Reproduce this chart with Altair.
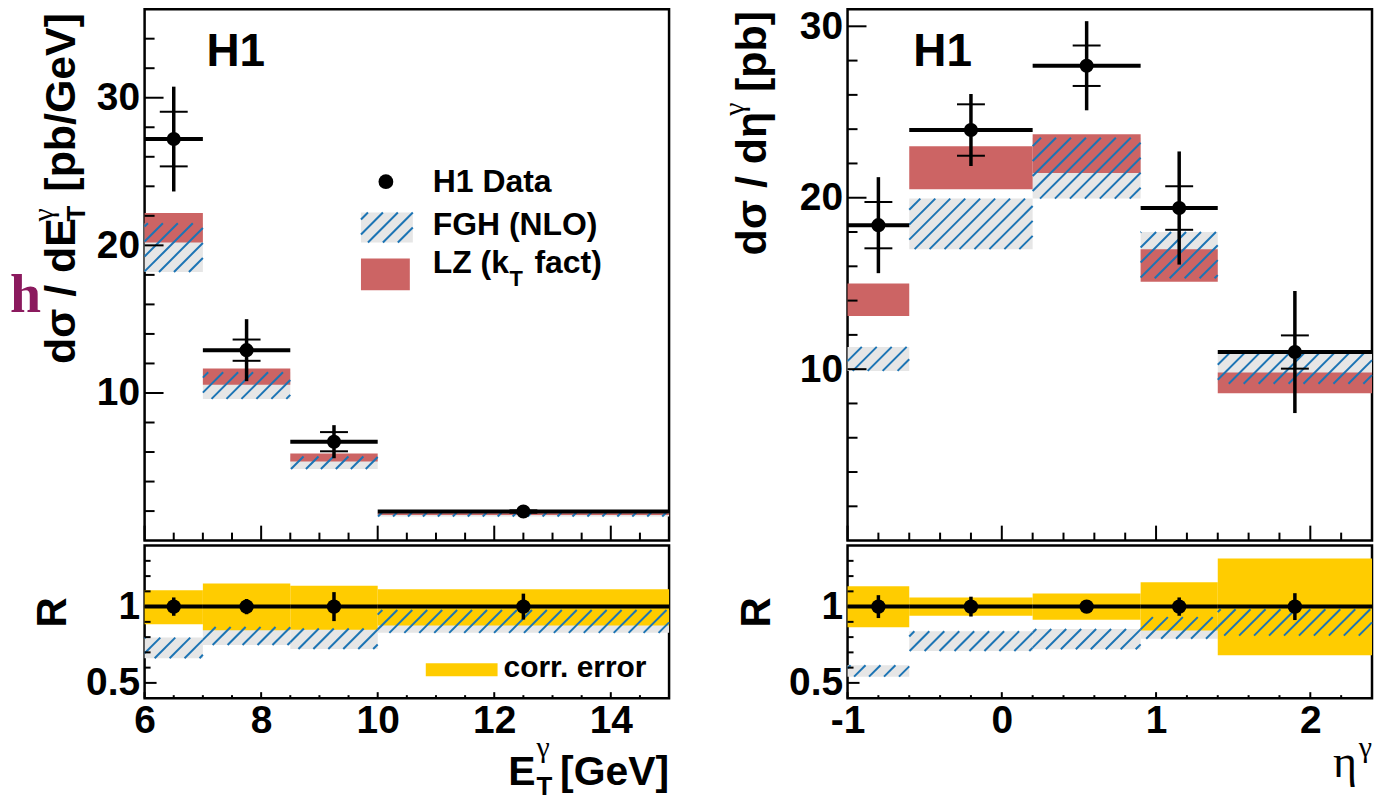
import math
import altair as alt
import pandas as pd

FONT = "Liberation Sans"
SERIF = "Liberation Serif"
BLUE = "#1c74b4"
GREY = "#e6e6e6"
RED = "#cc6464"
YEL = "#ffcc00"

# ---------------- data ----------------
ET_EDGES = [6.0, 7.0, 8.5, 10.0, 15.0]
ET_XC = [6.5, 7.75, 9.25, 12.5]
ET_DATA = [27.2, 12.9, 6.7, 1.97]
ET_STAT = [1.85, 0.72, 0.65, 0.08]
ET_TOT = [3.55, 2.1, 1.12, 0.2]
ET_FGH_LO = [18.2, 9.6, 4.85, 1.63]
ET_FGH_HI = [21.5, 11.4, 5.7, 1.9]
ET_LZ_LO = [20.2, 10.55, 5.36, 1.74]
ET_LZ_HI = [22.2, 11.65, 5.9, 1.86]
ET_R_ERR = [0.06, 0.05, 0.095, 0.085]
ET_CORR_LO = [0.884, 0.845, 0.849, 0.877]
ET_CORR_HI = [1.108, 1.151, 1.136, 1.114]
ET_RFGH_LO = [0.662, 0.748, 0.722, 0.828]
ET_RFGH_HI = [0.797, 0.866, 0.856, 0.978]

ETA_EDGES = [-1.0, -0.6, 0.2, 0.9, 1.4, 2.4]
ETA_XC = [-0.8, -0.2, 0.55, 1.15, 1.9]
ETA_DATA = [18.4, 23.95, 27.7, 19.4, 11.0]
ETA_STAT = [1.35, 1.5, 1.18, 1.27, 0.97]
ETA_TOT = [2.8, 2.1, 2.6, 3.3, 3.56]
ETA_FGH_LO = [9.9, 17.0, 19.95, 15.3, 9.15]
ETA_FGH_HI = [11.3, 19.95, 23.5, 18.0, 10.95]
ETA_LZ_LO = [13.1, 20.5, 21.45, 15.1, 8.6]
ETA_LZ_HI = [15.0, 23.0, 23.7, 17.0, 9.8]
ETA_R_ERR = [0.075, 0.065, 0.03, 0.06, 0.088]
ETA_CORR_LO = [0.864, 0.94, 0.914, 0.843, 0.681]
ETA_CORR_HI = [1.134, 1.06, 1.086, 1.159, 1.315]
ETA_RFGH_LO = [0.541, 0.709, 0.72, 0.789, 0.81]
ETA_RFGH_HI = [0.616, 0.838, 0.853, 0.931, 0.983]

# tick positions / labels
ET_MAJOR = [6, 8, 10, 12, 14]
ET_MINOR = [6.5, 7, 7.5, 8.5, 9, 9.5, 10.5, 11, 11.5, 12.5, 13, 13.5, 14.5]
ETA_MAJOR = [-1, 0, 1, 2]
ETA_MINOR = [-0.8, -0.6, -0.4, -0.2, 0.2, 0.4, 0.6, 0.8, 1.2, 1.4, 1.6, 1.8, 2.2]
MAIN_Y_MAJOR = [10, 20, 30]
MAIN_Y_MINOR_L = [2, 4, 6, 8, 12, 14, 16, 18, 22, 24, 26, 28, 32, 34]
MAIN_Y_MINOR_R = [2, 4, 6, 8, 12, 14, 16, 18, 22, 24, 26, 28]
R_MAJOR = [0.5, 1.0]
R_MINOR = [0.6, 0.7, 0.8, 0.9, 1.1, 1.2, 1.3]

# ---------------- layout ----------------
W, HM, HR = 526, 533, 153
LXD, RXD, LYD, RYD, QYD = [6, 15], [-1, 2.4], [0, 36], [0, 31], [0.4, 1.4]

def sc(d):
    return alt.Scale(domain=d, nice=False, zero=False)

AX = dict(title=None, ticks=False, domain=False, grid=False, labelFont=FONT,
          labelFontWeight="bold", labelFontSize=39, labelColor="black",
          labelFlush=False, labelOverlap=False,
          labelExpr="datum.value < 0 ? '-' + abs(datum.value) : '' + datum.value")


def hatch(rects, xd, yd, h, S=15.0):
    sx = W / (xd[1] - xd[0])
    sy = h / (yd[1] - yd[0])
    rows = []
    for (x0, x1, y0, y1) in rects:
        X0, X1 = (x0 - xd[0]) * sx, (x1 - xd[0]) * sx
        Y0, Y1 = (y0 - yd[0]) * sy, (y1 - yd[0]) * sy
        for k in range(math.ceil((X0 - Y1) / S), math.floor((X1 - Y0) / S) + 1):
            c = k * S
            a, b = max(X0, Y0 + c), min(X1, Y1 + c)
            if b - a > 0.5:
                rows.append({"hx": xd[0] + a / sx, "hy": yd[0] + (a - c) / sy,
                             "hx2": xd[0] + b / sx, "hy2": yd[0] + (b - c) / sy})
    return pd.DataFrame(rows)


def txt(s, x, y, size, font=FONT, weight="bold", angle=0, align="left", color="black"):
    return alt.Chart(pd.DataFrame({"t": [s]})).mark_text(
        font=font, fontSize=size, fontWeight=weight, angle=angle, align=align,
        baseline="alphabetic", color=color).encode(
        text="t:N", x=alt.value(x), y=alt.value(y))


ONE = pd.DataFrame({"a": [0]})


def tick_layers(X, Y, h, xmaj, xmin_, ymaj, ymin_, lx, ly):
    out = []
    for vals, ln in ((ymaj, ly[0]), (ymin_, ly[1])):
        out.append(alt.Chart(pd.DataFrame({"v": vals})).mark_rule(color="black", strokeWidth=2)
                   .encode(y=Y("v"), x=alt.value(0), x2=alt.value(ln)))
    for vals, ln in ((xmaj, lx[0]), (xmin_, lx[1])):
        out.append(alt.Chart(pd.DataFrame({"v": vals})).mark_rule(color="black", strokeWidth=2)
                   .encode(x=X("v"), y=alt.value(h), y2=alt.value(h - ln)))
    return out


def main_panel(edges, xc, data, stat, tot, flo, fhi, llo, lhi, xd, yd, xmaj, xmin_,
               ymin_, extra_bg, extra_fg):
    xs, ys = sc(xd), sc(yd)
    yax = alt.Axis(values=MAIN_Y_MAJOR, labelPadding=5, **AX)
    X = lambda f: alt.X(f, type="quantitative", scale=xs, axis=None)
    Y = lambda f: alt.Y(f, type="quantitative", scale=ys, axis=yax)
    df = pd.DataFrame({
        "x0": edges[:-1], "x1": edges[1:], "xc": xc, "val": data,
        "slo": [d - s for d, s in zip(data, stat)], "shi": [d + s for d, s in zip(data, stat)],
        "tlo": [d - t for d, t in zip(data, tot)], "thi": [d + t for d, t in zip(data, tot)],
        "fl": flo, "fh": fhi, "ll": llo, "lh": lhi})
    hd = hatch(list(zip(edges[:-1], edges[1:], flo, fhi)), xd, yd, HM)
    b = alt.Chart(df)
    layers = [
        b.mark_rect(color=GREY).encode(x=X("x0"), x2="x1", y=Y("fl"), y2="fh"),
        b.mark_rect(color=RED).encode(x=X("x0"), x2="x1", y=Y("ll"), y2="lh"),
        alt.Chart(hd).mark_rule(color=BLUE, strokeWidth=2).encode(
            x=X("hx"), y=Y("hy"), x2="hx2", y2="hy2"),
    ]
    layers += extra_bg(X, Y)
    layers += [
        b.mark_rule(color="black", strokeWidth=4).encode(x=X("x0"), x2="x1", y=Y("val")),
        b.mark_rule(color="black", strokeWidth=3.5).encode(x=X("xc"), y=Y("tlo"), y2="thi"),
        b.mark_tick(orient="horizontal", size=28, thickness=2, color="black", opacity=1).encode(
            x=X("xc"), y=Y("slo")),
        b.mark_tick(orient="horizontal", size=28, thickness=2, color="black", opacity=1).encode(
            x=X("xc"), y=Y("shi")),
        b.mark_point(shape="circle", filled=True, size=200, color="black", opacity=1).encode(
            x=X("xc"), y=Y("val")),
    ]
    layers += tick_layers(X, Y, HM, xmaj, xmin_, MAIN_Y_MAJOR, ymin_, (15, 8), (19, 10))
    layers += extra_fg
    return alt.layer(*layers).properties(width=W, height=HM)


def ratio_panel(edges, xc, err, clo, chi, rlo, rhi, xd, xmaj, xmin_, extra_bg, extra_fg):
    xs, ys = sc(xd), sc(QYD)
    xax = alt.Axis(values=xmaj, labelPadding=3, **AX)
    yax = alt.Axis(values=R_MAJOR, labelPadding=5, **AX)
    X = lambda f: alt.X(f, type="quantitative", scale=xs, axis=xax)
    Y = lambda f: alt.Y(f, type="quantitative", scale=ys, axis=yax)
    df = pd.DataFrame({
        "x0": edges[:-1], "x1": edges[1:], "xc": xc, "one": [1.0] * len(xc),
        "elo": [1 - e for e in err], "ehi": [1 + e for e in err],
        "cl": clo, "ch": chi, "rl": rlo, "rh": rhi})
    hd = hatch(list(zip(edges[:-1], edges[1:], rlo, rhi)), xd, QYD, HR)
    b = alt.Chart(df)
    layers = [
        b.mark_rect(color=GREY).encode(x=X("x0"), x2="x1", y=Y("rl"), y2="rh"),
        b.mark_rect(color=YEL).encode(x=X("x0"), x2="x1", y=Y("cl"), y2="ch"),
        alt.Chart(hd).mark_rule(color=BLUE, strokeWidth=2).encode(
            x=X("hx"), y=Y("hy"), x2="hx2", y2="hy2"),
    ]
    layers += extra_bg(X, Y)
    layers += [
        b.mark_rule(color="black", strokeWidth=4).encode(x=X("x0"), x2="x1", y=Y("one")),
        b.mark_rule(color="black", strokeWidth=3.5).encode(x=X("xc"), y=Y("elo"), y2="ehi"),
        b.mark_point(shape="circle", filled=True, size=210, color="black", opacity=1).encode(
            x=X("xc"), y=Y("one")),
    ]
    layers += tick_layers(X, Y, HR, xmaj, xmin_, R_MAJOR, R_MINOR, (6, 3), (12, 6))
    layers += extra_fg
    return alt.layer(*layers).properties(width=W, height=HR)


# ---------------- legends / annotations ----------------
SXL = W / (LXD[1] - LXD[0])
SYL = HM / (LYD[1] - LYD[0])
pxL = lambda p: LXD[0] + p / SXL
pyL = lambda p: LYD[1] - p / SYL


def legend_main(X, Y):
    hd = hatch([(pxL(217), pxL(269), pyL(234), pyL(204))], LXD, LYD, HM)
    return [
        alt.Chart(ONE).mark_rect(color=GREY).encode(
            x=alt.value(217), x2=alt.value(269), y=alt.value(204), y2=alt.value(234)),
        alt.Chart(hd).mark_rule(color=BLUE, strokeWidth=2).encode(
            x=X("hx"), y=Y("hy"), x2="hx2", y2="hy2"),
        alt.Chart(ONE).mark_rect(color=RED).encode(
            x=alt.value(217), x2=alt.value(266), y=alt.value(250), y2=alt.value(282)),
        alt.Chart(ONE).mark_point(shape="circle", filled=True, size=220, color="black",
                                  opacity=1).encode(x=alt.value(242), y=alt.value(173)),
    ]


def legend_ratio(X, Y):
    return [alt.Chart(ONE).mark_rect(color=YEL).encode(
        x=alt.value(282), x2=alt.value(354), y=alt.value(118), y2=alt.value(131))]


main_left_fg = [
    txt("H1", 62, 57, 46),
    txt("H1 Data", 289, 183, 32),
    txt("FGH (NLO)", 289, 227, 32),
    txt("LZ (k", 289, 265, 32),
    txt("T", 366, 278, 22),
    txt("fact)", 391, 265, 32),
    txt("h", -135, 304, 56, font=SERIF, color="#8b1a5e"),
    txt("dσ / dE", -70, 356, 43, angle=270),
    txt("T", -60, 213, 26, angle=270),
    txt("γ", -92, 213, 30, font=SERIF, weight="normal", angle=270),
    txt("[pb/GeV]", -70, 183, 43, angle=270),
]
main_right_fg = [
    txt("H1", 66, 57, 46),
    txt("dσ / dη", -82, 247, 43, angle=270),
    txt("γ", -104, 107, 30, font=SERIF, weight="normal", angle=270),
    txt("[pb]", -82, 83, 43, angle=270),
]
ratio_left_fg = [
    txt("corr. error", 360, 132, 30),
    txt("R", -79, 67, 42, angle=270, align="center"),
    txt("E", 392, 240, 41, align="right"),
    txt("T", 393, 250, 26),
    txt("γ", 393, 212, 30, font=SERIF, weight="normal"),
    txt("[GeV]", 526, 240, 41, align="right"),
]
ratio_right_fg = [
    txt("R", -78, 67, 42, angle=270, align="center"),
    txt("η", 511, 232, 46, font=SERIF, weight="normal", align="right"),
    txt("γ", 526, 212, 30, font=SERIF, weight="normal", align="right"),
]

none_bg = lambda X, Y: []

mainL = main_panel(ET_EDGES, ET_XC, ET_DATA, ET_STAT, ET_TOT, ET_FGH_LO, ET_FGH_HI,
                   ET_LZ_LO, ET_LZ_HI, LXD, LYD, ET_MAJOR, ET_MINOR, MAIN_Y_MINOR_L,
                   legend_main, main_left_fg)
mainR = main_panel(ETA_EDGES, ETA_XC, ETA_DATA, ETA_STAT, ETA_TOT, ETA_FGH_LO, ETA_FGH_HI,
                   ETA_LZ_LO, ETA_LZ_HI, RXD, RYD, ETA_MAJOR, ETA_MINOR, MAIN_Y_MINOR_R,
                   none_bg, main_right_fg)
ratioL = ratio_panel(ET_EDGES, ET_XC, ET_R_ERR, ET_CORR_LO, ET_CORR_HI, ET_RFGH_LO, ET_RFGH_HI,
                     LXD, ET_MAJOR, ET_MINOR, legend_ratio, ratio_left_fg)
ratioR = ratio_panel(ETA_EDGES, ETA_XC, ETA_R_ERR, ETA_CORR_LO, ETA_CORR_HI, ETA_RFGH_LO,
                     ETA_RFGH_HI, RXD, ETA_MAJOR, ETA_MINOR, none_bg, ratio_right_fg)

chart = alt.concat(mainL, mainR, ratioL, ratioR, columns=2,
                   spacing={"row": 5, "column": 179}, bounds="flush").properties(
    padding={"left": 0, "top": -4, "right": 0, "bottom": 0}
).configure(font=FONT).configure_view(stroke="black", strokeWidth=2.5)

chart.save("out.html", embed_options={"renderer": "svg", "actions": False})
